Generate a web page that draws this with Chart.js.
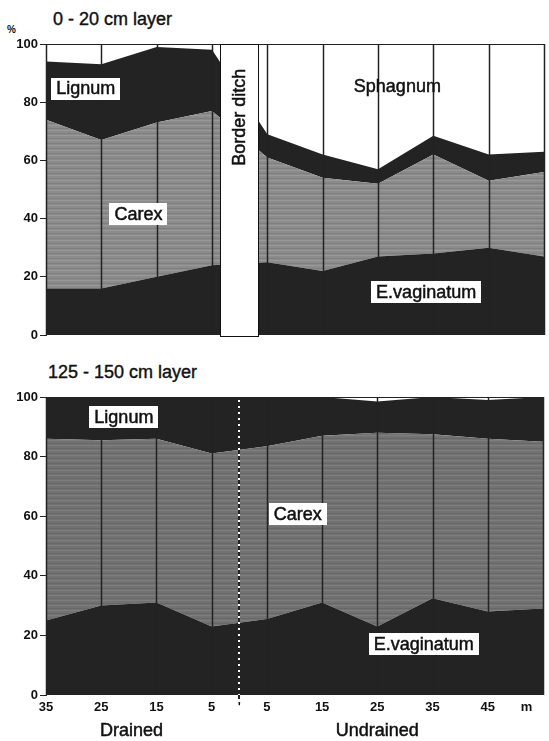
<!DOCTYPE html>
<html>
<head>
<meta charset="utf-8">
<script src="https://cdn.jsdelivr.net/npm/chart.js@4.4.0/dist/chart.umd.min.js"></script>
<style>
  body { margin: 0; background: #fff; width: 549px; height: 741px; position: relative; overflow: hidden;
         font-family: "Liberation Sans", Arial, sans-serif; color: #111; }
  .wrap { position: absolute; left: 0; width: 549px; }
  .title { position: absolute; font-size: 18px; white-space: nowrap; -webkit-text-stroke: 0.4px #111; }
  .pct { position: absolute; left: 7px; top: 24px; font-size: 10px; font-weight: bold; }
</style>
</head>
<body>
<div class="title" style="left:53px;top:9px">0 - 20 cm layer</div>
<div class="pct">%</div>
<div class="wrap" style="top:0;height:345px"><canvas id="topChart" width="549" height="345"></canvas></div>
<div class="title" style="left:48px;top:362px">125 - 150 cm layer</div>
<div class="wrap" style="top:345px;height:396px"><canvas id="deepChart" width="549" height="396"></canvas></div>

<script>
// distance from the border ditch (m), drained side negative
const distances = [-35, -25, -15, -5, 5, 15, 25, 35, 45, 55];
const xTickValues = [-35, -25, -15, -5, 0, 5, 15, 25, 35, 45, 52];
const xTickLabels = ['35', '25', '15', '5', "'", '5', '15', '25', '35', '45', 'm'];
const yTickValues = [0, 20, 40, 60, 80, 100];
const layerNames = ['E.vaginatum', 'Carex', 'Lignum', 'Sphagnum'];
const ditchEdges = [-3.5, 3.4];

// 0 - 20 cm layer (%)
const topEvag = [16, 16, 20, 24, 25, 22, 27, 28, 30, 27];
const topCarex = [58, 51, 53, 53, 36, 32, 25, 34, 23, 29];
const topLignum = [20, 26, 26, 21, 8, 8, 5, 6.5, 9, 7];
const topSphagnum = [6, 7, 1, 2, 31, 38, 43, 31.5, 38, 37];

// 125 - 150 cm layer (%)
const deepEvag = [25, 30, 31, 23, 25.5, 31, 23, 32.5, 28, 29];
const deepCarex = [61, 55.5, 55, 58, 58, 56, 65, 55, 58, 56];
const deepLignum = [14, 14.5, 14, 19, 16.5, 13, 10.5, 12.5, 13, 15];
const deepSphagnum = [0, 0, 0, 0, 0, 0, 1.5, 0, 1, 0];

// where the layer names sit (m, %)
const topLabels = [
  { text: 'Lignum', x: -27.8, y: 84.7, box: true },
  { text: 'Carex', x: -18.3, y: 41.7, box: true },
  { text: 'Sphagnum', x: 28.5, y: 85.7, box: false },
  { text: 'E.vaginatum', x: 33.7, y: 14.9, box: true }
];
const deepLabels = [
  { text: 'Lignum', x: -20.9, y: 93.3, box: true },
  { text: 'Carex', x: 10.6, y: 60.6, box: true },
  { text: 'E.vaginatum', x: 33.4, y: 17, box: true }
];
const sideLabels = [
  { text: 'Drained', x: -19.5 },
  { text: 'Undrained', x: 25 }
];

const DARK = '#232323';
const FONT = '"Liberation Sans", Arial, sans-serif';

// streaky grey like the printed shading
function greyPattern(base, light, dark) {
  const c = document.createElement('canvas');
  c.width = 8; c.height = 5;
  const g = c.getContext('2d');
  g.fillStyle = base; g.fillRect(0, 0, 8, 5);
  g.fillStyle = light; g.fillRect(0, 0, 8, 1);
  g.fillStyle = dark; g.fillRect(0, 3, 8, 1);
  return g.createPattern(c, 'repeat');
}

function makeDatasets(values, grey) {
  const colors = [DARK, grey, DARK, '#ffffff'];
  return values.map((arr, i) => ({
    label: layerNames[i],
    data: arr.map((v, j) => ({ x: distances[j], y: v })),
    backgroundColor: colors[i],
    borderWidth: 0,
    pointRadius: 0,
    tension: 0,
    fill: i === 0 ? 'origin' : '-1'
  }));
}

// heavier text, the print is a bit thick
function inkText(ctx, text, px, py) {
  ctx.fillStyle = '#111';
  ctx.strokeStyle = '#111';
  ctx.lineWidth = 0.5;
  ctx.fillText(text, px, py);
  ctx.strokeText(text, px, py);
}

const decor = {
  id: 'decor',
  afterDatasetsDraw(chart, args, opts) {
    const { ctx, chartArea: a, scales: { x, y } } = chart;
    ctx.save();
    // sampling columns
    ctx.strokeStyle = DARK;
    ctx.lineWidth = 1.5;
    distances.forEach(d => {
      const px = Math.round(x.getPixelForValue(d)) + 0.5;
      ctx.beginPath(); ctx.moveTo(px, a.top); ctx.lineTo(px, a.bottom); ctx.stroke();
    });
    ctx.lineWidth = 1;
    ctx.beginPath(); ctx.moveTo(a.left, a.top + 0.5); ctx.lineTo(a.right, a.top + 0.5); ctx.stroke();

    if (opts.ditch) {
      const x0 = x.getPixelForValue(ditchEdges[0]);
      const x1 = x.getPixelForValue(ditchEdges[1]);
      ctx.fillStyle = '#fff';
      ctx.fillRect(x0, a.top, x1 - x0, a.bottom - a.top + 2);
      ctx.strokeStyle = '#111';
      ctx.strokeRect(Math.round(x0) + 0.5, a.top + 0.5, Math.round(x1 - x0), a.bottom - a.top + 1);
      ctx.save();
      ctx.translate(x.getPixelForValue(0), y.getPixelForValue(74.8));
      ctx.rotate(-Math.PI / 2);
      ctx.font = '18px ' + FONT;
      ctx.textAlign = 'center'; ctx.textBaseline = 'middle';
      inkText(ctx, 'Border ditch', 0, 0);
      ctx.restore();
    }

    if (opts.dotted) {
      const px = Math.round(x.getPixelForValue(0));
      ctx.strokeStyle = DARK; ctx.lineWidth = 2;
      ctx.beginPath(); ctx.moveTo(px, a.top); ctx.lineTo(px, a.bottom + 4); ctx.stroke();
      ctx.strokeStyle = '#fff'; ctx.setLineDash([2, 4]);
      ctx.beginPath(); ctx.moveTo(px, a.top + 3); ctx.lineTo(px, a.bottom); ctx.stroke();
      ctx.setLineDash([]);
    }

    ctx.font = '18px ' + FONT;
    ctx.textAlign = 'center'; ctx.textBaseline = 'middle';
    (opts.labels || []).forEach(l => {
      const px = x.getPixelForValue(l.x), py = y.getPixelForValue(l.y);
      const w = ctx.measureText(l.text).width + 10;
      if (l.box) {
        ctx.fillStyle = '#fff';
        ctx.fillRect(Math.round(px - w / 2), Math.round(py - 11), Math.round(w), 22);
      }
      inkText(ctx, l.text, px, py + 1);
    });
    (opts.sides || []).forEach(l => {
      inkText(ctx, l.text, x.getPixelForValue(l.x), a.bottom + 36);
    });
    ctx.restore();
  }
};

function yScale() {
  return {
    stacked: true, min: 0, max: 100,
    afterFit: s => { s.width = 46; },
    afterBuildTicks: s => { s.ticks = yTickValues.map(v => ({ value: v })); },
    ticks: { color: '#111', padding: 2, font: { family: FONT, size: 13, weight: 'bold' } },
    grid: { drawOnChartArea: false, tickLength: 6, color: DARK },
    border: { display: true, color: DARK, width: 1 }
  };
}

new Chart(document.getElementById('topChart'), {
  type: 'line',
  data: { datasets: makeDatasets([topEvag, topCarex, topLignum, topSphagnum],
                                 greyPattern('#8b8b8b', '#999999', '#7f7f7f')) },
  options: {
    responsive: false, animation: false,
    layout: { padding: { top: 44, right: 5, bottom: 10, left: 0 } },
    scales: {
      x: { type: 'linear', min: -35, max: 55, display: false },
      y: yScale()
    },
    plugins: {
      legend: { display: false }, tooltip: { enabled: false },
      decor: { ditch: true, labels: topLabels }
    }
  },
  plugins: [decor]
});

new Chart(document.getElementById('deepChart'), {
  type: 'line',
  data: { datasets: makeDatasets([deepEvag, deepCarex, deepLignum, deepSphagnum],
                                 greyPattern('#727272', '#7e7e7e', '#686868')) },
  options: {
    responsive: false, animation: false,
    layout: { padding: { top: 52, right: 6, bottom: 0, left: 0 } },
    scales: {
      x: {
        type: 'linear', min: -35, max: 55,
        afterFit: s => { s.height = 46; },
        afterBuildTicks: s => { s.ticks = xTickValues.map(v => ({ value: v })); },
        ticks: {
          autoSkip: false, maxRotation: 0, padding: 5, color: '#111',
          font: { family: FONT, size: 13, weight: 'bold' },
          callback: v => xTickLabels[xTickValues.indexOf(v)]
        },
        grid: { display: false, drawTicks: false },
        border: { display: false }
      },
      y: yScale()
    },
    plugins: {
      legend: { display: false }, tooltip: { enabled: false },
      decor: { dotted: true, labels: deepLabels, sides: sideLabels }
    }
  },
  plugins: [decor]
});
</script>
</body>
</html>
